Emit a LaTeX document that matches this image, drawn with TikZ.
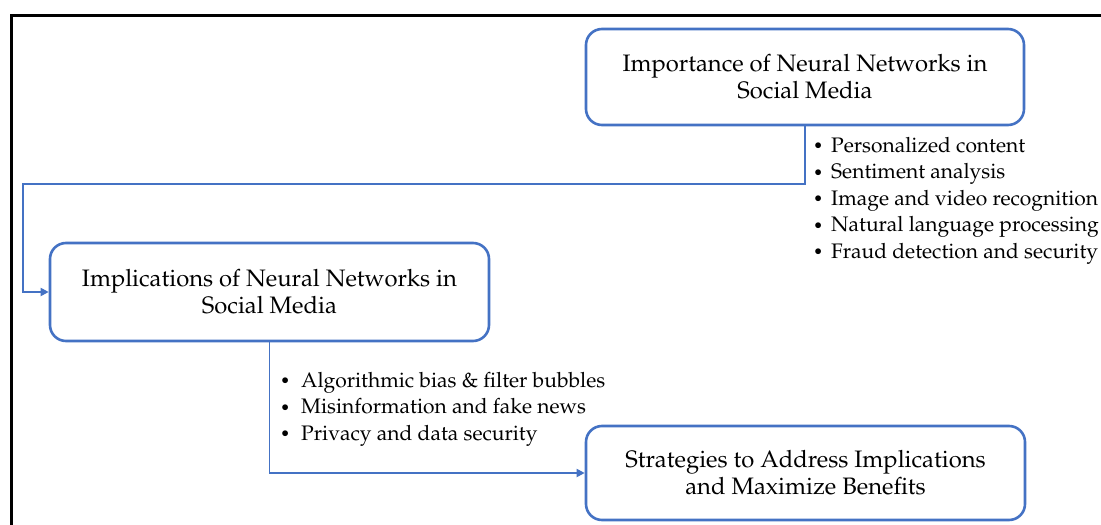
\documentclass[tikz,border=0pt]{standalone}
\usepackage[T1]{fontenc}
\usepackage{mathpazo}
\usetikzlibrary{arrows.meta}
\definecolor{bblue}{HTML}{4472C4}
\newcommand{\bul}[1]{\makebox[#1][l]{\hspace{3pt}\raisebox{0.5pt}{\scalebox{0.8}{\textbullet}}}}
\begin{document}
\begin{tikzpicture}[x=1pt,y=-1pt,
  box/.style={draw=bblue,line width=2.6pt,rounded corners=16pt,fill=white,align=center,font=\fontsize{23.8}{27}\selectfont,inner sep=0pt},
  conn/.style={draw=bblue,line width=1.8pt,-{Triangle[length=8pt,width=8pt]}},
  lst/.style={align=left,anchor=north west,inner sep=0pt,font=\fontsize{21}{26.5}\selectfont},
  frame/.style={line width=3pt,black}]
\useasboundingbox (0,0) rectangle (1101,525);
\draw[frame] (11.5,530) -- (11.5,15.5) -- (1110,15.5);
\node[box,minimum width=438pt,minimum height=96pt] (b1) at (805,77) {Importance of Neural Networks in\\Social Media};
\node[box,minimum width=439pt,minimum height=98pt] (b2) at (269.5,292) {Implications of Neural Networks in\\Social Media};
\node[box,minimum width=439pt,minimum height=94pt] (b3) at (805.5,473) {Strategies to Address Implications\\and Maximize Benefits};
\coordinate (c1) at (23,184);
\draw[conn] (b1.south) |- (c1) |- (b2.west);
\draw[conn] (b2.south) |- (b3.west);
\node[lst] (l1) at (810,137) {\bul{21pt}Personalized content\\\bul{21pt}Sentiment analysis\\\bul{21pt}Image and video recognition\\\bul{21pt}Natural language processing\\\bul{21pt}Fraud detection and security};
\node[lst] (l2) at (277,372) {\bul{24pt}Algorithmic bias \& filter bubbles\\\bul{24pt}Misinformation and fake news\\\bul{24pt}Privacy and data security};
\end{tikzpicture}
\end{document}
